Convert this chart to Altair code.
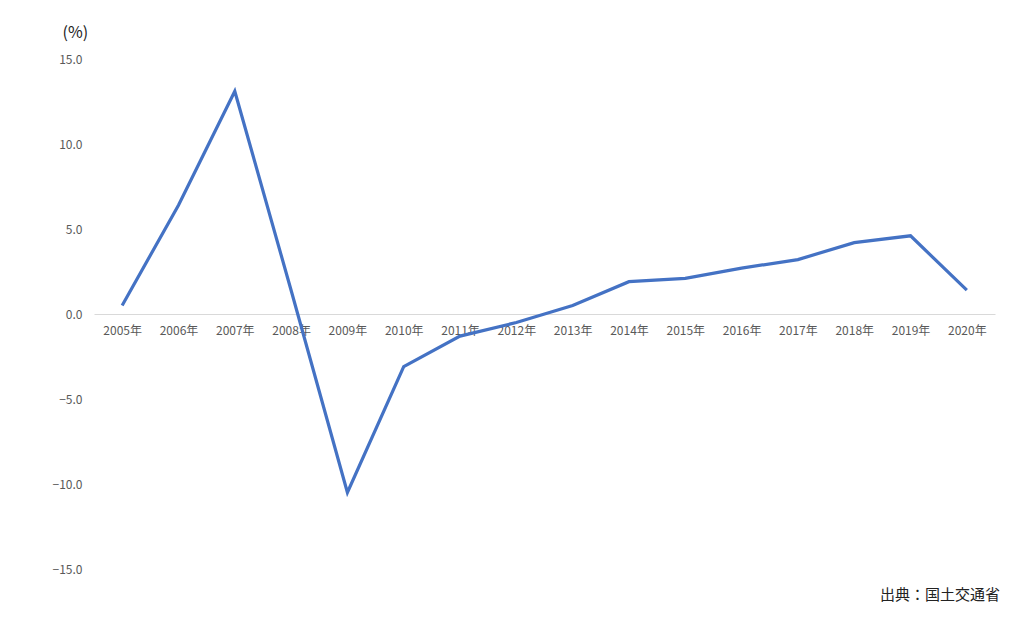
import altair as alt
import pandas as pd

years = ["2005年", "2006年", "2007年", "2008年", "2009年", "2010年", "2011年", "2012年",
         "2013年", "2014年", "2015年", "2016年", "2017年", "2018年", "2019年", "2020年"]
values = [0.5, 6.4, 13.1, 1.4, -10.5, -3.1, -1.3, -0.5,
          0.5, 1.9, 2.1, 2.7, 3.2, 4.2, 4.6, 1.4]
y_ticks = [-15, -10, -5, 0, 5, 10, 15]

df = pd.DataFrame({"year": years, "value": values})

W, H = 901, 510
FONT = "Noto Sans CJK JP"

line = alt.Chart(df).mark_line(color="#4472C4", strokeWidth=3.2).encode(
    x=alt.X("year:N", sort=years, title=None,
            scale=alt.Scale(type="point", padding=0.5),
            axis=alt.Axis(offset=-H / 2, domainColor="#d9d9d9", domainWidth=1,
                          ticks=False, labelAngle=0, labelPadding=11,
                          labelFont=FONT, labelFontSize=12, labelColor="#595959",
                          grid=False)),
    y=alt.Y("value:Q", scale=alt.Scale(domain=[-15, 15], nice=False, zero=False),
            axis=alt.Axis(values=y_ticks, format=".1f", domain=False, ticks=False,
                          grid=False, labelPadding=12, labelFont=FONT,
                          labelFontSize=12, labelColor="#595959",
                          title="(%)", titleAngle=0, titleX=-32, titleY=-27,
                          titleAlign="left", titleBaseline="middle",
                          titleFont=FONT, titleFontSize=16, titleFontWeight="normal",
                          titleColor="#222222")),
)

source = alt.Chart(pd.DataFrame({"t": ["出典：国土交通省"]})).mark_text(
    align="right", baseline="middle", font=FONT, fontSize=15, color="#222222"
).encode(text="t:N", x=alt.value(906), y=alt.value(536))

chart = alt.layer(line, source).properties(
    width=W, height=H,
    autosize=alt.AutoSizeParams(type="none"),
    padding={"left": 86, "top": 51, "right": 20, "bottom": 50},
).configure(background="white").configure_view(stroke=None)

chart.save("out.html", embed_options={"renderer": "svg", "actions": False})
